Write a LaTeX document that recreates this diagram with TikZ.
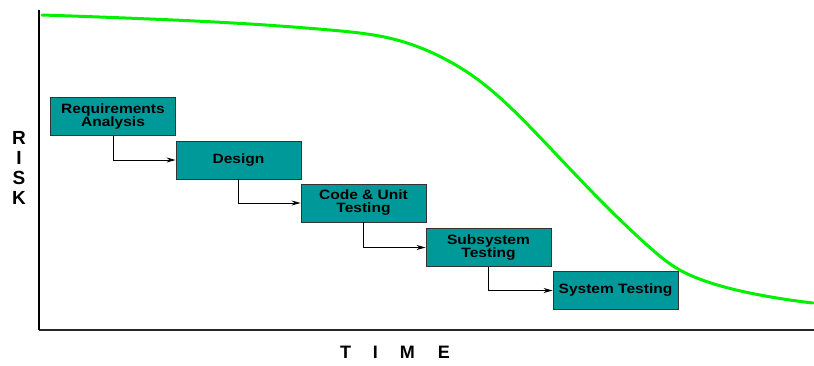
\documentclass[tikz,border=0pt]{standalone}
\usepackage{fontspec}
\setmainfont{Liberation Sans}
\newfontfamily\stagefont[FakeStretch=1.15]{Liberation Sans}
\usetikzlibrary{arrows.meta,hobby}
\definecolor{stagefill}{HTML}{009999}
\definecolor{stageedge}{HTML}{333333}
\definecolor{riskgreen}{HTML}{00F000}
\begin{document}
\begin{tikzpicture}[x=1pt,y=-1pt,
  stage/.style={draw=stageedge, line width=0.9pt, fill=stagefill,
    minimum width=125pt, minimum height=38pt, inner sep=0pt,
    align=center, font=\stagefont\bfseries\fontsize{13.5}{13}\selectfont},
  flow/.style={draw=black, line width=0.8pt, -{Stealth[length=9pt,width=5pt]}},
  axislabel/.style={font=\bfseries\fontsize{19}{20.3}\selectfont, align=center, inner sep=0pt}]
  \useasboundingbox (0,0) rectangle (814,365);

  % axes
  \coordinate (ytop) at (39,10);
  \coordinate (origin) at (39,330);
  \coordinate (xend) at (814,330);
  \draw[black!85, line width=1.5pt] (origin) -- (xend);
  \draw[black, line width=2pt] (ytop) -- (origin);

  % risk over time
  \draw[riskgreen, line width=3pt, line cap=round, use Hobby shortcut]
    (42,15) .. (150,19) .. (250,24) .. (330,30) .. (397,40) .. (443,58)
    .. (470,74) .. (533,130) .. (600,200) .. (647,245) .. (678,269)
    .. (705,281) .. (760,295) .. (813,303);

  % axis labels
  \node[axislabel] (risk) at (19,168) {R\\I\\S\\K};
  \node[axislabel, font=\bfseries\fontsize{18}{18}\selectfont] (time) at (395,352)
    {T\hspace{22pt}I\hspace{22pt}M\hspace{23pt}E};

  % waterfall stages
  \node[stage] (req)    at (113,116.5) {Requirements\\Analysis};
  \node[stage] (design) at (238.5,160) {Design};
  \node[stage] (code)   at (363.5,203) {Code \& Unit\\Testing};
  \node[stage] (sub)    at (488.5,247.5) {Subsystem\\Testing};
  \node[stage] (sys)    at (615.5,290.5) {System Testing};

  \draw[flow] (req.south) |- (design.west);
  \draw[flow] (design.south) |- (code.west);
  \draw[flow] (code.south) |- (sub.west);
  \draw[flow] (sub.south) |- (sys.west);
\end{tikzpicture}
\end{document}
